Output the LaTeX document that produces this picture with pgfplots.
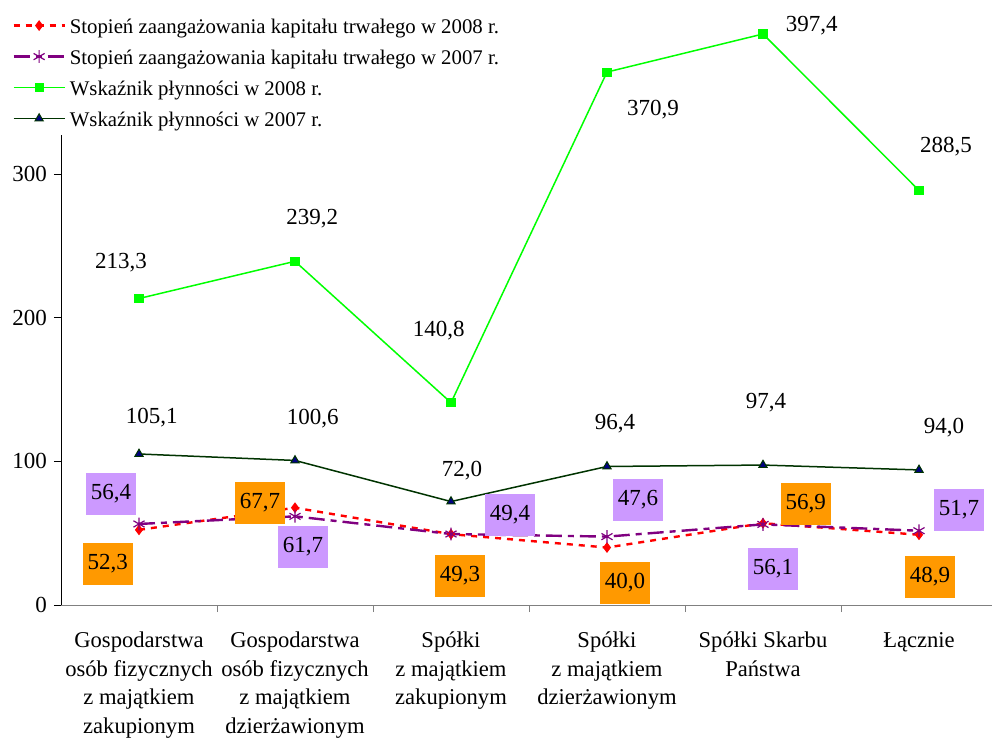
\documentclass[border=0pt]{standalone}
\usepackage{fontspec}
\setmainfont{Liberation Serif}
\usepackage{pgfplots}
\pgfplotsset{compat=1.18}
\usepackage{pgfplotstable}

\definecolor{cRed}{HTML}{FF0000}
\definecolor{cPurple}{HTML}{800080}
\definecolor{cGreen}{HTML}{00FF00}
\definecolor{cDark}{HTML}{003300}
\definecolor{cNavy}{HTML}{000080}
\definecolor{boxOrange}{HTML}{FF9900}
\definecolor{boxLilac}{HTML}{CC99FF}

% x, value, label shift (pt)
\pgfplotstableread{
x y dx dy
0 52.3 -15.65 -17
1 67.7 -17.5 2.45
2 49.3 4.5 -20.8
3 40.0 9 -17.5
4 56.9 21.35 9.85
5 48.9 5.5 -21
}\kapA
\pgfplotstableread{
x y dx dy
0 56.4 -14 15.1
1 61.7 4 -15.25
2 49.4 29.5 9.5
3 47.6 15.5 18.4
4 56.1 5 -22.15
5 51.7 20 10.45
}\kapB
\pgfplotstableread{
x y dx dy
0 213.3 -9 17.85
1 239.2 8.65 21.35
2 140.8 -6.15 35.85
3 370.9 23 -18.65
4 397.4 24.4 4.15
5 288.5 13.5 22
}\plynA
\pgfplotstableread{
x y dx dy
0 105.1 6.35 18
1 100.6 8.9 21.15
2 72.0 5.5 15.5
3 96.4 4 21.5
4 97.4 1.5 31.35
5 94.0 12.5 21.3
}\plynB

\pgfplotsset{
  lbl/.style={
    forget plot, draw=none, mark=none,
    point meta=y,
    visualization depends on={\thisrow{dx} \as \lblx},
    visualization depends on={\thisrow{dy} \as \lbly},
    nodes near coords={\pgfmathprintnumber[fixed,fixed zerofill,precision=1,use comma,assume math mode=true]{\pgfplotspointmeta}},
    every node near coord/.append style={anchor=center, xshift=\lblx pt, yshift=\lbly pt,
      text=black, font=\fontsize{11.5}{13}\selectfont},
  },
}
\newcommand{\lgs}{\rule[-3pt]{0pt}{12pt}}

\begin{document}
\begin{tikzpicture}
\begin{axis}[
  scale only axis,
  width=465.5pt, height=235pt,
  xmin=-0.5, xmax=5.468,
  ymin=0, ymax=327.1,
  clip=false,
  axis x line=bottom, axis y line=left,
  axis line style={-},
  x axis line style={draw=gray},
  y axis line style={draw=black},
  tick align=outside,
  xtick={0,...,5},
  major x tick style={draw=none},
  minor xtick={0.5,1.5,2.5,3.5,4.5},
  minor x tick style={draw=gray},
  minor tick length=3.5pt,
  major tick length=3.5pt,
  ytick={0,100,200,300},
  y tick style={draw=black},
  /pgf/number format/assume math mode=true,
  yticklabel style={font=\fontsize{11.5}{13}\selectfont},
  xticklabel style={align=center, yshift=-6.5pt, font=\fontsize{11.3}{14.3}\selectfont},
  xticklabels={
    {Gospodarstwa\\osób fizycznych\\z majątkiem\\zakupionym},
    {Gospodarstwa\\osób fizycznych\\z majątkiem\\dzierżawionym},
    {Spółki\\z majątkiem\\zakupionym},
    {Spółki\\z majątkiem\\dzierżawionym},
    {Spółki Skarbu\\Państwa},
    {Łącznie}},
  legend cell align=left,
  legend style={at={(rel axis cs:-0.0526,1.2645)}, anchor=north west,
    draw=none, fill=none, inner sep=0pt, row sep=1pt,
    font=\fontsize{10.4}{12}\selectfont},
  legend image code/.code={
    \path[draw=none, fill=none] (0pt,-4pt) rectangle (25.5pt,4pt);
    \draw[mark repeat=2,mark phase=2,#1] plot coordinates {(0pt,0pt)(12.75pt,0pt)(25.5pt,0pt)};},
]
\addplot[cRed, line width=1.2pt, dash pattern=on 3pt off 3pt,
  mark=diamond*, mark size=2.3pt, mark options={solid, fill=cRed, line width=0.5pt}]
  table[x=x,y=y] {\kapA};
\addlegendentry{\lgs Stopień zaangażowania kapitału trwałego w 2008 r.}

\addplot[cPurple, line width=1.2pt, dash pattern=on 8pt off 3pt on 3pt off 3pt,
  mark=asterisk, mark size=3.2pt, mark options={solid, line width=0.6pt}]
  table[x=x,y=y] {\kapB};
\addlegendentry{\lgs Stopień zaangażowania kapitału trwałego w 2007 r.}

\addplot[cGreen, line width=0.75pt,
  mark=square*, mark size=1.9pt, mark options={fill=cGreen}]
  table[x=x,y=y] {\plynA};
\addlegendentry{\lgs Wskaźnik płynności w 2008 r.}

\addplot[cDark, line width=0.75pt,
  mark=triangle*, mark size=2.4pt, mark options={fill=cNavy, draw=cDark, line width=0.5pt}]
  table[x=x,y=y] {\plynB};
\addlegendentry{\lgs Wskaźnik płynności w 2007 r.}

% data labels on top of all lines
\addplot[lbl] table[x=x,y=y] {\plynA};
\addplot[lbl] table[x=x,y=y] {\plynB};
\addplot[lbl, every node near coord/.append style={fill=boxOrange, inner sep=0pt,
  minimum width=25pt, minimum height=21pt}] table[x=x,y=y] {\kapA};
\addplot[lbl, every node near coord/.append style={fill=boxLilac, inner sep=0pt,
  minimum width=25pt, minimum height=21pt}] table[x=x,y=y] {\kapB};
\end{axis}
\pgfresetboundingbox
\path[use as bounding box] (-30.5pt,-67.5pt) rectangle (465.5pt,302.5pt);
\end{tikzpicture}
\end{document}
